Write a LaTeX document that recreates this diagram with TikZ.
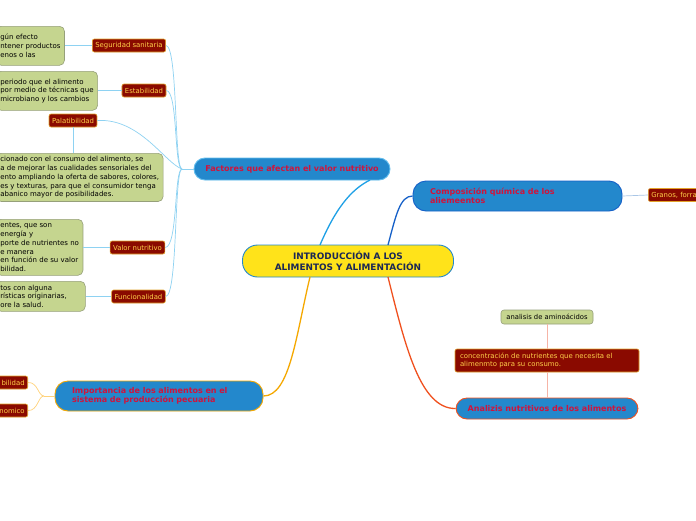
\documentclass[tikz,border=0pt]{standalone}
\usepackage{fontspec}
\setmainfont{DejaVu Sans}
\usetikzlibrary{calc}

\definecolor{topicblue}{HTML}{2388CC}
\definecolor{topicred}{HTML}{D0143C}
\definecolor{mainyellow}{HTML}{FFE31A}
\definecolor{maintext}{HTML}{1B2755}
\definecolor{tagred}{HTML}{8A0A00}
\definecolor{tagborder}{HTML}{E2A22A}
\definecolor{tagtext}{HTML}{FFD04A}
\definecolor{notegreen}{HTML}{C5D58F}
\definecolor{noteborder}{HTML}{96A07A}
\definecolor{linkblue}{HTML}{1EA0E6}
\definecolor{linkdark}{HTML}{1560C8}
\definecolor{linkorange}{HTML}{F5A800}
\definecolor{linkred}{HTML}{F0501E}
\definecolor{twigblue}{HTML}{8ED2F2}
\definecolor{twiggray}{HTML}{A9C6E6}
\definecolor{twigpink}{HTML}{F6B4A6}
\definecolor{twigyellow}{HTML}{FFD27A}

\tikzset{
  topic/.style={draw=#1, line width=0.9pt, fill=topicblue, text=topicred,
    rounded corners=11pt, inner sep=3pt,
    font=\fontsize{8}{9.4}\selectfont\bfseries},
  tagbox/.style={draw=tagborder, line width=0.6pt, fill=tagred, text=tagtext,
    rounded corners=2pt, inner xsep=3pt, inner ysep=1pt, minimum height=13pt,
    font=\fontsize{6.9}{8.4}\selectfont},
  notebox/.style={draw=noteborder, line width=0.6pt, fill=notegreen, text=black,
    rounded corners=5pt, inner xsep=4pt, align=left,
    font=\fontsize{7}{8.7}\selectfont},
  branch/.style={line width=1.3pt},
  twig/.style={line width=0.7pt}
}

\begin{document}
\begin{tikzpicture}[x=1pt,y=-1pt]

% Canvas
\useasboundingbox (0,0) rectangle (696,520);
\fill[white] (0,0) rectangle (696,520);
\clip (0,0) rectangle (696,520);

% Central idea
\node[draw=topicblue, line width=0.9pt, fill=mainyellow, text=maintext,
  rounded corners=15pt, minimum width=211pt, minimum height=32pt, align=center,
  font=\fontsize{8.9}{10.6}\selectfont\bfseries]
  (main) at (348,261) {INTRODUCCIÓN A LOS\\ALIMENTOS Y ALIMENTACIÓN};

% Main topics
\node[topic=linkblue!70, minimum width=196pt, minimum height=22pt]
  (fac) at (292,169) {Factores que afectan el valor nutritivo};
\node[topic=linkdark, minimum width=209pt, minimum height=30pt, rounded corners=13pt,
  text width=175pt, align=left]
  (comp) at (517.5,196) {Composición química de los\\aliemeentos};
\node[topic=linkred, minimum width=182pt, minimum height=21pt]
  (anal) at (547,408.5) {Analizis nutritivos de los alimentos};
\node[topic=linkorange, minimum width=208pt, minimum height=30pt, rounded corners=13pt,
  text width=174pt, align=left]
  (imp) at (159,396) {Importancia de los alimentos en el\\sistema de producción pecuaria};

% Branches from the centre
\draw[branch, linkblue] (320,245) .. controls (335,210) and (350,190) .. (370,180);
\draw[branch, linkdark] (388,245) .. controls (396,215) and (400,196) .. (comp.west);
\draw[branch, linkred] (388,277) .. controls (405,345) and (420,409) .. (anal.west);
\draw[branch, linkorange] (310,277) .. controls (296,335) and (290,396) .. (imp.east);

% Factores: sub topics
\node[tagbox] (seg) at (129,45.5) {Seguridad sanitaria};
\node[tagbox] (est) at (144,90.5) {Estabilidad};
\node[tagbox] (pal) at (73,120.5) {Palatibilidad};
\node[tagbox] (val) at (137.5,247.5) {Valor nutritivo};
\node[tagbox] (fun) at (138.5,296.5) {Funcionalidad};

\node[notebox, anchor=north west, minimum height=39pt]
  (gseg) at (-4,26) {gún efecto\\ntener productos\\enos o las};
\node[notebox, anchor=north west, minimum height=39pt]
  (gest) at (-4,71) { periodo que el alimento\\por medio de técnicas que\\microbiano y los cambios};
\node[notebox, anchor=north west, minimum height=48pt]
  (gpal) at (-4,153) {cionado con el consumo del alimento, se\\a de mejorar las cualidades sensoriales del\\ento ampliando la oferta de sabores, colores,\\es y texturas, para que el consumidor tenga\\abanico mayor de posibilidades.};
\node[notebox, anchor=north west, minimum height=56pt]
  (gval) at (-4,219) {entes, que son\\ energía y\\porte de nutrientes no\\e manera\\en función de su valor\\bilidad.};
\node[notebox, anchor=north west, text width=81pt, minimum height=30pt]
  (gfun) at (-4,281) {tos con alguna\\rísticas originarias,\\ore la salud.};

\coordinate (facj) at (182,169);
\draw[twig, twigblue] (fac.west) -- (facj);
\draw[twig, twigblue] (seg.east) .. controls (178,46) and (174,169) .. (facj);
\draw[twig, twigblue] (est.east) .. controls (178,91) and (174,169) .. (facj);
\draw[twig, twigblue] (pal.east) .. controls (140,118) and (165,163) .. (facj);
\draw[twig, twigblue] (val.east) .. controls (178,247) and (174,169) .. (facj);
\draw[twig, twigblue] (fun.east) .. controls (178,296) and (174,169) .. (facj);

\draw[twig, twigblue] (gseg.east |- seg.west) -- (seg.west);
\draw[twig, twigblue] (gest.east |- est.west) -- (est.west);
\draw[twig, twigblue] (pal.south) -- (pal.south |- gpal.north);
\draw[twig, twigblue] (gval.east |- val.west) -- (val.west);
\draw[twig, twigblue] (gfun.east |- fun.west) -- (fun.west);

% Composicion
\node[tagbox, anchor=west] (gra) at (648,195) {Granos, forra};
\draw[twig, twiggray] (comp.east) -- (gra.west);

% Analisis nutritivo
\node[tagbox, minimum width=184pt, minimum height=23pt, text width=174pt, align=left]
  (conc) at (547,360.5) {concentración de nutrientes que necesita el\\alimenmto para su consumo.};
\node[notebox, align=center, rounded corners=3pt, minimum width=92pt, minimum height=14pt,
  inner ysep=1pt, font=\fontsize{6.8}{8}\selectfont] (amin) at (547,317) {analisis de aminoácidos};
\draw[twig, twigpink] (anal.north) -- (conc.south);
\draw[twig, twigpink] (conc.north) -- (amin.south);

% Importancia
\node[tagbox, anchor=east, text width=30pt, align=right] (bil) at (28,382.5) {bilidad};
\node[tagbox, anchor=east, text width=30pt, align=right] (nom) at (28,410.5) {nomico};
\coordinate (impj) at (44,396);
\draw[twig, twigyellow] (imp.west) -- (impj);
\draw[twig, twigyellow] (bil.east) .. controls (38,382) and (38,396) .. (impj);
\draw[twig, twigyellow] (nom.east) .. controls (38,411) and (38,396) .. (impj);

\end{tikzpicture}
\end{document}
